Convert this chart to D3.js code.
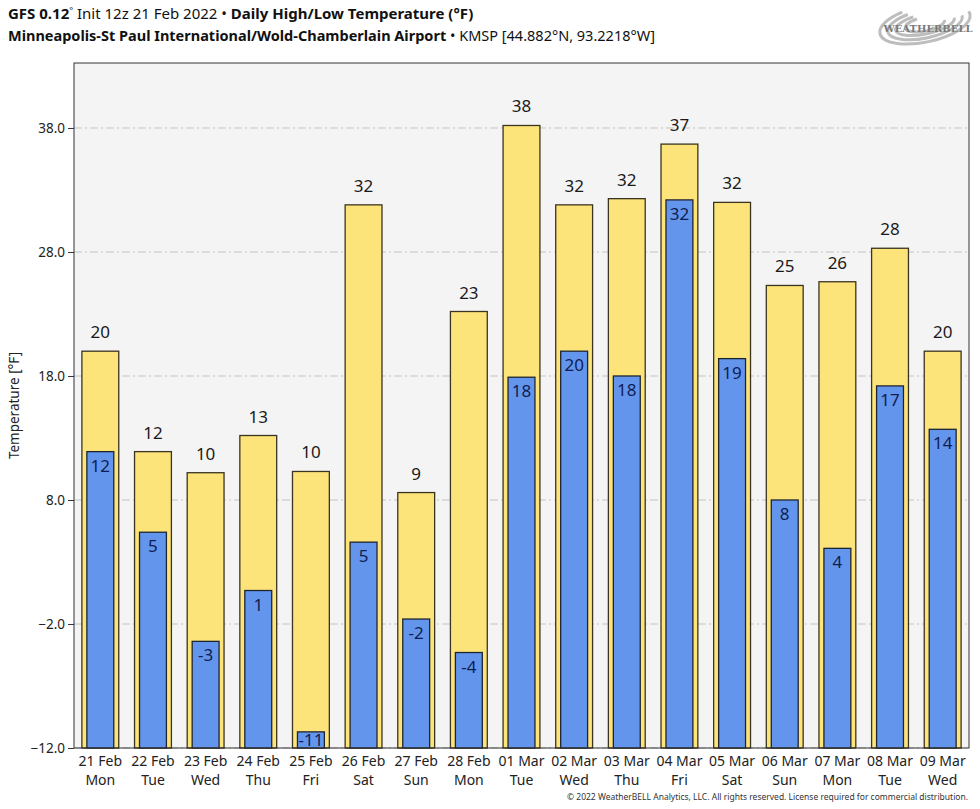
<!DOCTYPE html>
<html>
<head>
<meta charset="utf-8">
<script src="https://cdnjs.cloudflare.com/ajax/libs/d3/7.8.5/d3.min.js"></script>
<style>
  body { margin: 0; background: #fff; }
  svg { font-family: "Noto Sans", "Open Sans", sans-serif; }
</style>
</head>
<body>
<div id="chart"></div>
<script>
// data
var days = ["21 Feb", "22 Feb", "23 Feb", "24 Feb", "25 Feb", "26 Feb", "27 Feb", "28 Feb",
            "01 Mar", "02 Mar", "03 Mar", "04 Mar", "05 Mar", "06 Mar", "07 Mar", "08 Mar", "09 Mar"];
var weekdays = ["Mon", "Tue", "Wed", "Thu", "Fri", "Sat", "Sun", "Mon",
                "Tue", "Wed", "Thu", "Fri", "Sat", "Sun", "Mon", "Tue", "Wed"];
var highs = [20.0, 11.9, 10.2, 13.2, 10.3, 31.8, 8.6, 23.2, 38.2, 31.8, 32.3, 36.7, 32.0, 25.3, 25.6, 28.3, 20.0];
var lows = [11.9, 5.4, -3.4, 0.7, -10.7, 4.6, -1.6, -4.3, 17.9, 20.0, 18.0, 32.2, 19.4, 8.0, 4.1, 17.2, 13.7];
var yTicks = [-12, -2, 8, 18, 28, 38];

var width = 980, height = 809;
var margin = {left: 74, right: 11, top: 63, bottom: 61};

var svg = d3.select("#chart").append("svg")
    .attr("width", width)
    .attr("height", height);

var x = d3.scaleBand()
    .domain(d3.range(days.length))
    .range([margin.left, width - margin.right])
    .paddingInner(0.3)
    .paddingOuter(0.15);

var y = d3.scaleLinear()
    .domain([-12, 43.24])
    .range([height - margin.bottom, margin.top]);

//plot background
svg.append("rect")
    .attr("x", margin.left)
    .attr("y", margin.top)
    .attr("width", width - margin.left - margin.right)
    .attr("height", height - margin.top - margin.bottom)
    .attr("fill", "#f4f4f4");

//grid lines
svg.append("g").selectAll("line")
    .data(yTicks)
    .enter().append("line")
    .attr("x1", margin.left)
    .attr("x2", width - margin.right)
    .attr("y1", function(d) { return y(d); })
    .attr("y2", function(d) { return y(d); })
    .attr("stroke", "#c4c4c4")
    .attr("stroke-width", 1)
    .attr("stroke-dasharray", "8,3,2,3");

var bw = x.bandwidth();
var lowW = bw * 0.73;

//high bars
svg.append("g").selectAll("rect")
    .data(highs)
    .enter().append("rect")
    .attr("x", function(d, i) { return x(i); })
    .attr("y", function(d) { return y(d); })
    .attr("width", bw)
    .attr("height", function(d) { return y(-12) - y(d); })
    .attr("fill", "#fde47a")
    .attr("stroke", "#3b3420")
    .attr("stroke-width", 1.3);

//low bars
svg.append("g").selectAll("rect")
    .data(lows)
    .enter().append("rect")
    .attr("x", function(d, i) { return x(i) + (bw - lowW) / 2; })
    .attr("y", function(d) { return y(d); })
    .attr("width", lowW)
    .attr("height", function(d) { return y(-12) - y(d); })
    .attr("fill", "#6495ed")
    .attr("stroke", "#1e2530")
    .attr("stroke-width", 1.3);

//high labels
svg.append("g").selectAll("text")
    .data(highs)
    .enter().append("text")
    .attr("x", function(d, i) { return x(i) + bw / 2; })
    .attr("y", function(d) { return y(d) - 13; })
    .attr("text-anchor", "middle")
    .attr("font-size", 17)
    .attr("fill", "#1a1a1a")
    .text(function(d) { return Math.round(d); });

//low labels (kept inside the plot for very low values)
svg.append("g").selectAll("text")
    .data(lows)
    .enter().append("text")
    .attr("x", function(d, i) { return x(i) + bw / 2; })
    .attr("y", function(d) { return Math.min(y(d) + 20, y(-12) - 2); })
    .attr("text-anchor", "middle")
    .attr("font-size", 17)
    .attr("fill", "#0f1d52")
    .text(function(d) { return Math.round(d); });

//frame
svg.append("rect")
    .attr("x", margin.left)
    .attr("y", margin.top)
    .attr("width", width - margin.left - margin.right)
    .attr("height", height - margin.top - margin.bottom)
    .attr("fill", "none")
    .attr("stroke", "#333")
    .attr("stroke-width", 1);

//y axis
var yAxis = svg.append("g")
    .attr("transform", "translate(" + margin.left + ",0)")
    .call(d3.axisLeft(y).tickValues(yTicks).tickFormat(d3.format(".1f")).tickSize(6).tickSizeOuter(0));
yAxis.select(".domain").remove();
yAxis.selectAll("text").attr("font-size", 13.5).attr("fill", "#222").attr("font-family", "Noto Sans");
yAxis.selectAll("line").attr("stroke", "#333");

//x labels, two lines per day
var xg = svg.append("g");
xg.selectAll("text.day")
    .data(days)
    .enter().append("text")
    .attr("class", "day")
    .attr("x", function(d, i) { return x(i) + bw / 2; })
    .attr("y", height - margin.bottom + 18)
    .attr("text-anchor", "middle")
    .attr("font-size", 14)
    .attr("fill", "#222")
    .text(function(d) { return d; });
xg.selectAll("text.wday")
    .data(weekdays)
    .enter().append("text")
    .attr("class", "wday")
    .attr("x", function(d, i) { return x(i) + bw / 2; })
    .attr("y", height - margin.bottom + 37)
    .attr("text-anchor", "middle")
    .attr("font-size", 14)
    .attr("fill", "#222")
    .text(function(d) { return d; });

//y label
svg.append("text")
    .attr("transform", "translate(19," + ((margin.top + height - margin.bottom) / 2) + ") rotate(-90)")
    .attr("text-anchor", "middle")
    .attr("font-size", 13.5)
    .attr("fill", "#222")
    .text("Temperature [°F]");

//title
var t1 = svg.append("text").attr("x", 8).attr("y", 19).attr("font-size", 15).attr("fill", "#111");
t1.append("tspan").attr("font-weight", "bold").text("GFS 0.12");
t1.append("tspan").attr("font-size", 9).attr("dy", -5).text("°");
t1.append("tspan").attr("dy", 5).text(" Init 12z 21 Feb 2022 • ");
t1.append("tspan").attr("font-weight", "bold").text("Daily High/Low Temperature (°F)");

var t2 = svg.append("text").attr("x", 8).attr("y", 41).attr("font-size", 14.5).attr("fill", "#111");
t2.append("tspan").attr("font-weight", "bold").text("Minneapolis-St Paul International/Wold-Chamberlain Airport");
t2.append("tspan").text(" • KMSP [44.882°N, 93.2218°W]");

//logo
var logo = svg.append("g").attr("transform", "translate(925,24)");
[[46, 18], [38, 14], [30, 10], [20, 7]].forEach(function(e) {
  logo.append("ellipse")
      .attr("rx", e[0]).attr("ry", e[1])
      .attr("transform", "rotate(-12)")
      .attr("fill", "none")
      .attr("stroke", "#bdbdbd")
      .attr("stroke-width", 3)
      .attr("stroke-dasharray", (e[0] * 3) + "," + (e[0] * 1.5));
});
logo.append("text")
    .attr("x", 3).attr("y", 8)
    .attr("text-anchor", "middle")
    .attr("font-family", "DejaVu Serif")
    .attr("font-size", 10)
    .attr("font-weight", "bold")
    .attr("fill", "#7a7a7a")
    .text("WEATHERBELL");

//copyright
svg.append("text")
    .attr("x", 968)
    .attr("y", 800)
    .attr("text-anchor", "end")
    .attr("font-size", 8.5)
    .attr("fill", "#333")
    .text("© 2022 WeatherBELL Analytics, LLC. All rights reserved. License required for commercial distribution.");
</script>
</body>
</html>
